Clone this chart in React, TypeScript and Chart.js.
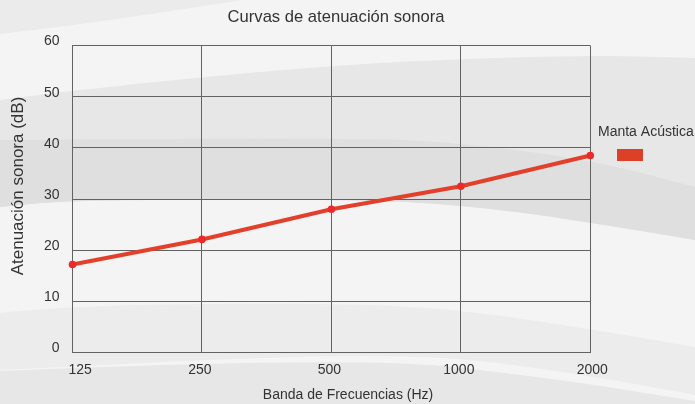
import { useEffect, useRef } from 'react';
import { Chart, registerables } from 'chart.js';

Chart.register(...registerables);

// ---- data ----
const frequencies = ['125', '250', '500', '1000', '2000'];
const attenuation = [17.2, 22.1, 28.0, 32.5, 38.5];
const seriesLabel = 'Manta Acústica';
const chartTitle = 'Curvas de atenuación sonora';
const yAxisTitle = 'Atenuación sonora (dB)';
const xAxisTitle = 'Banda de Frecuencias (Hz)';
const yMin = 0;
const yMax = 60;
const yStep = 10;

// ---- styles ----
const FONT = '"Liberation Sans", Arial, Helvetica, sans-serif';
const TEXT = '#333333';
const GRID = '#626262';
const LINE = '#e2402a';
const POINT = '#ec2a2a';
const LEGEND_BOX = '#dc4128';

type Pt = [number, number];

function smoothPath(ctx: CanvasRenderingContext2D, pts: Pt[], move: boolean) {
  if (move) ctx.moveTo(pts[0][0], pts[0][1]);
  else ctx.lineTo(pts[0][0], pts[0][1]);
  for (let i = 1; i < pts.length - 1; i++) {
    const mx = (pts[i][0] + pts[i + 1][0]) / 2;
    const my = (pts[i][1] + pts[i + 1][1]) / 2;
    ctx.quadraticCurveTo(pts[i][0], pts[i][1], mx, my);
  }
  const last = pts[pts.length - 1];
  ctx.lineTo(last[0], last[1]);
}

function band(ctx: CanvasRenderingContext2D, top: Pt[], bottom: Pt[], color: string) {
  ctx.beginPath();
  smoothPath(ctx, top, true);
  smoothPath(ctx, bottom.slice().reverse(), false);
  ctx.closePath();
  ctx.fillStyle = color;
  ctx.fill();
}

const backgroundPlugin = {
  id: 'swooshBackground',
  beforeDraw(chart: any) {
    const { ctx, width: w, height: h } = chart;
    ctx.save();
    ctx.fillStyle = '#f4f4f4';
    ctx.fillRect(0, 0, w, h);
    // top-left corner shade
    band(ctx, [[0, 0], [w * 0.35, 0]], [[0, 34], [100, 22], [w * 0.35, 0]], '#ebebeb');
    // upper wide band
    const bTop: Pt[] = [[0, 100], [72, 90], [350, 63], [580, 55], [w, 58]];
    const bBottom: Pt[] = [[0, 207], [72, 200], [350, 199], [462, 205], [578, 220], [w, 240]];
    band(ctx, bTop, bBottom, '#e7e7e7');
    // darker inner band
    const dTop: Pt[] = [[0, 140], [345, 137], [462, 143], [592, 160], [w, 187]];
    band(ctx, dTop, bBottom, '#dfdfe0');
    // lower band
    const cTop: Pt[] = [[0, 313], [72, 305], [345, 303], [462, 310], [578, 327], [w, 347]];
    const cBottom: Pt[] = [[0, 370], [350, 353], [520, 362], [w, 395]];
    band(ctx, cTop, cBottom, '#ececec');
    const eTop: Pt[] = [[0, 371], [350, 356], [545, 377], [w, 401]];
    band(ctx, eTop, [[0, h], [w, h]], '#e7e7e7');
    ctx.restore();
  },
};

const textPlugin = {
  id: 'chartTexts',
  afterDraw(chart: any) {
    const { ctx } = chart;
    const xs = chart.scales.x;
    const ys = chart.scales.y;
    ctx.save();
    ctx.fillStyle = TEXT;

    // title
    ctx.font = `16.6px ${FONT}`;
    ctx.textAlign = 'center';
    ctx.textBaseline = 'middle';
    ctx.fillText(chartTitle, 336, 17);

    // y tick labels
    ctx.font = `14px ${FONT}`;
    ctx.textAlign = 'right';
    ys.ticks.forEach((t: any) => {
      ctx.fillText(String(t.value), 59.5, ys.getPixelForValue(t.value) - 4);
    });

    // x tick labels
    frequencies.forEach((lab, i) => {
      const px = xs.getPixelForValue(i);
      if (i === 0) {
        ctx.textAlign = 'left';
        ctx.fillText(lab, px - 4, 370);
      } else {
        ctx.textAlign = 'center';
        ctx.fillText(lab, px + (i === frequencies.length - 1 ? 2 : -2), 370);
      }
    });

    // x axis title
    ctx.textAlign = 'center';
    ctx.fillText(xAxisTitle, 348, 395);

    // y axis title
    ctx.save();
    ctx.translate(18, 186);
    ctx.rotate(-Math.PI / 2);
    ctx.font = `17px ${FONT}`;
    ctx.fillText(yAxisTitle, 0, 0);
    ctx.restore();

    // legend
    ctx.font = `14px ${FONT}`;
    ctx.textAlign = 'left';
    ctx.fillText(chart.data.datasets[0].label, 598, 132);
    ctx.fillStyle = LEGEND_BOX;
    ctx.fillRect(617, 149, 26, 12);

    ctx.restore();
  },
};

export default function App() {
  const ref = useRef<HTMLCanvasElement | null>(null);

  useEffect(() => {
    document.body.style.margin = '0';
    if (!ref.current) return;
    const chart = new Chart(ref.current, {
      type: 'line',
      data: {
        labels: frequencies,
        datasets: [
          {
            label: seriesLabel,
            data: attenuation,
            borderColor: LINE,
            borderWidth: 4,
            pointRadius: 3.8,
            pointBackgroundColor: POINT,
            pointBorderColor: POINT,
            pointBorderWidth: 0,
            tension: 0,
            clip: false as any,
          },
        ],
      },
      options: {
        animation: false,
        responsive: false,
        layout: { padding: { left: 72.5, top: 45.5, right: 104.7, bottom: 51.5 } },
        plugins: {
          legend: { display: false },
          title: { display: false },
          tooltip: { enabled: false },
        },
        events: [],
        scales: {
          x: {
            type: 'category',
            offset: false,
            ticks: { display: false },
            grid: { color: GRID, lineWidth: 1, drawTicks: false },
            border: { display: true, color: GRID, width: 1 },
            afterFit: (s: any) => { s.height = 0; },
          },
          y: {
            type: 'linear',
            min: yMin,
            max: yMax,
            ticks: { display: false, stepSize: yStep },
            grid: { color: GRID, lineWidth: 1, drawTicks: false },
            border: { display: true, color: GRID, width: 1 },
            afterFit: (s: any) => { s.width = 0; },
          },
        },
      },
      plugins: [backgroundPlugin, textPlugin],
    });
    return () => chart.destroy();
  }, []);

  return (
    <div style={{ width: 695, height: 404 }}>
      <canvas ref={ref} width={695} height={404} style={{ display: 'block', width: 695, height: 404 }} />
    </div>
  );
}
